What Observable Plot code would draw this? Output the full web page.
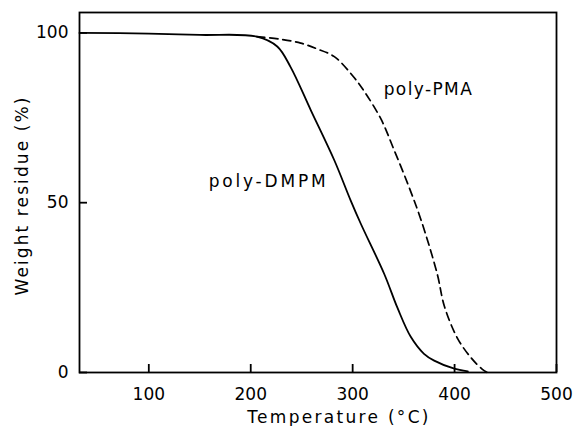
<!DOCTYPE html>
<html>
<head>
<meta charset="utf-8">
<script src="https://cdn.jsdelivr.net/npm/d3@7"></script>
<script src="https://cdn.jsdelivr.net/npm/@observablehq/plot@0.6"></script>
<style>
  html, body { margin: 0; padding: 0; background: #fff; }
  #chart svg { display: block; }
</style>
</head>
<body>
<div id="chart"></div>
<script>
// poly-DMPM (solid)
const dmpmT = [32, 100, 150, 206, 226, 239, 259, 282, 298, 308, 331, 344, 357, 370, 380, 399, 413];
const dmpmW = [100, 99.8, 99.4, 98.9, 96, 90, 77.2, 62.5, 50.7, 43.8, 29, 19, 10.5, 5.5, 3.5, 1.2, 0.3];
// poly-PMA (dashed)
const pmaT = [206, 230, 249, 265, 282, 301, 312, 328, 340, 354, 367, 383, 390, 403, 416, 427, 432];
const pmaW = [98.9, 98.1, 97, 95.3, 93, 87, 82.5, 74.5, 66, 55.6, 45, 29, 19.5, 10, 4.4, 1, 0];

const xTicks = [100, 200, 300, 400, 500];
const yTicks = [0, 50, 100];

const seriesNames = ["poly-DMPM", "poly-PMA"];
const labelT = [158.8, 330.4];
const labelW = [56.3, 83.3];

const xLabel = "Temperature (°C)";
const yLabel = "Weight residue (%)";

const dmpm = dmpmT.map((t, i) => ({T: t, W: dmpmW[i]}));
const pma = pmaT.map((t, i) => ({T: t, W: pmaW[i]}));
const labels = seriesNames.map((s, i) => ({name: s, T: labelT[i], W: labelW[i]}));

const font = "DejaVu Sans, sans-serif";
const W = 575, H = 426, mT = 12, mB = 54, mL = 79, mR = 19, tickPx = 8;
const xDomain = [32, 500], yDomain = [0, 106];
// tick length converted from pixels into data units
const tickY = tickPx * (yDomain[1] - yDomain[0]) / (H - mT - mB);
const tickX = tickPx * (xDomain[1] - xDomain[0]) / (W - mL - mR);

const chart = Plot.plot({
  width: W,
  height: H,
  marginTop: mT,
  marginBottom: mB,
  marginLeft: mL,
  marginRight: mR,
  style: {fontFamily: font, fontSize: "17px", color: "#000", background: "#fff"},
  x: {domain: xDomain},
  y: {domain: yDomain},
  marks: [
    // tick labels
    Plot.axisX({ticks: xTicks, tickSize: 0, tickPadding: 15, label: null, fontSize: 17}),
    Plot.axisY({ticks: yTicks, tickSize: 0, tickPadding: 11, label: null, fontSize: 17}),
    Plot.frame({stroke: "#000", strokeWidth: 1.8}),
    // inward tick marks
    Plot.ruleX(xTicks, {x: d => d, y1: yDomain[0], y2: yDomain[0] + tickY, stroke: "#000", strokeWidth: 1.8}),
    Plot.ruleY(yTicks, {y: d => d, x1: xDomain[0], x2: xDomain[0] + tickX, stroke: "#000", strokeWidth: 1.8}),
    Plot.line(dmpm, {x: "T", y: "W", stroke: "#000", strokeWidth: 1.8, curve: "catmull-rom"}),
    Plot.line(pma, {x: "T", y: "W", stroke: "#000", strokeWidth: 1.7, strokeDasharray: "8,5", curve: "catmull-rom"}),
    Plot.text(labels, {x: "T", y: "W", text: "name", textAnchor: "start", lineAnchor: "middle", fontSize: 17, fill: "#000"}),
    Plot.text([xLabel], {text: d => d, frameAnchor: "bottom", textAnchor: "middle", lineAnchor: "middle", dx: 21, dy: 45, fontSize: 17, fill: "#000"}),
    Plot.text([yLabel], {text: d => d, frameAnchor: "left", textAnchor: "middle", lineAnchor: "middle", rotate: -90, dx: -57, dy: 3, fontSize: 17, fill: "#000"})
  ]
});

// letter spacing, as in the reference's typewriter-like lettering
const spacing = {"poly-DMPM": "2.8px", "poly-PMA": "1.4px"};
spacing[xLabel] = "2.3px";
spacing[yLabel] = "2.1px";
d3.select(chart).selectAll("text").each(function() {
  const s = spacing[this.textContent];
  if (s) this.style.letterSpacing = s;
});
document.getElementById("chart").appendChild(chart);
</script>
</body>
</html>
